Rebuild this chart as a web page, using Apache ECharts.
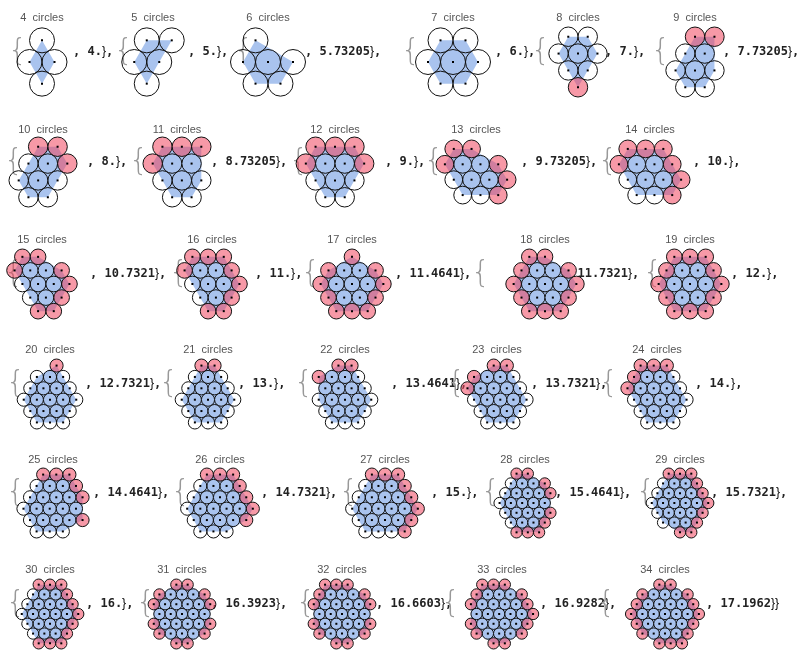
<!DOCTYPE html>
<html><head><meta charset="utf-8">
<script src="https://cdn.jsdelivr.net/npm/echarts@6/dist/echarts.min.js"></script>
<style>html,body{margin:0;padding:0;background:#fff}#c{width:800px;height:659px}</style>
</head><body><div id="c"></div>
<script>
// circle counts
const counts = [4,5,6,7,8,9,10,11,12,13,14,15,16,17,18,19,20,21,22,23,24,25,26,27,28,29,30,31,32,33,34];
// hull perimeters (labels)
const values = ["4.","5.","5.73205","6.","7.","7.73205","8.","8.73205","9.","9.73205","10.","10.7321","11.","11.4641","11.7321","12.","12.7321","13.","13.4641","13.7321","14.","14.4641","14.7321","15.","15.4641","15.7321","16.","16.3923","16.6603","16.9282","17.1962"];
// packings: rows of a hex lattice, each char = half step; o = circle, r = red circle
const packings = [
 [" o","o o"," o"],
 [" o o","o o"," o"],
 [" o","o o o"," o o"],
 [" o o","o o o"," o o"],
 [" o o","o o o"," o o","  r"],
 ["  r r"," o o","o o o"," o o"],
 ["  r r"," o o r","o o o"," o o"],
 [" r r r","r o o"," o o o","  o o"],
 [" r r r","r o o r"," o o o","  o o"],
 [" r r","r o o r"," o o o r","  o o r"],
 [" r r r","r o o r"," o o o r","  o o r"],
 [" r r","r o o r"," o o o r","  o o r","   r r"],
 [" r r r","r o o r"," o o o r","  o o r","   r r"],
 ["    r"," r o o r","r o o o r"," r o o r","  r r r"],
 ["  r r"," r o o r","r o o o r"," r o o r","  r r r"],
 ["  r r r"," r o o r","r o o o r"," r o o r","  r r r"],
 ["     r","  o o o"," o o o o","o o o o o"," o o o o","  o o o"],
 ["   r r","  o o o"," o o o o","o o o o o"," o o o o","  o o o"],
 ["   r r","r o o o"," o o o o","o o o o o"," o o o o","  o o o"],
 ["    r r"," r o o o","r o o o o"," o o o o o","  o o o o","   o o o"],
 ["  r r r"," r o o o","r o o o o"," o o o o o","  o o o o","   o o o"],
 ["   r r r","  o o o r"," o o o o r","o o o o o"," o o o o r","  o o o"],
 ["   r r r","  o o o r"," o o o o r","o o o o o r"," o o o o r","  o o o"],
 ["   r r r","  o o o r"," o o o o r","o o o o o r"," o o o o r","  o o o r"],
 ["   r r","  o o o r"," o o o o r","o o o o o"," o o o o r","  o o o r","   r r r"],
 ["   r r r","  o o o r"," o o o o r","o o o o o r"," o o o o r","  o o o r","     r r"],
 ["   r r r","  o o o r"," o o o o r","o o o o o r"," o o o o r","  o o o r","   r r r"],
 ["    r r"," r o o o r","r o o o o r"," o o o o o","r o o o o r"," r o o o r","    r r"],
 ["  r r r"," r o o o r","r o o o o r"," o o o o o","r o o o o r"," r o o o r","    r r"],
 ["  r r r"," r o o o r","r o o o o r"," o o o o o r","r o o o o r"," r o o o r","    r r"],
 ["     r r","  r o o o r"," r o o o o r","r o o o o o r"," r o o o o r","  r o o o r","     r r r"]
];
// layout
const panelX = [42,153,268,453,578,695, 43,177,335,476,650, 42,212,352,545,690, 50,208,345,497,657, 53,220,385,525,680, 50,182,342,502,665];
const braceX = [12,118,238,405,535,655, 8,133,293,428,602, 8,173,305,475,647, 10,163,298,450,603, 10,175,343,485,640, 10,140,300,445,600];
const valueX = [75,190,307,497,607,725, 89,213,387,523,695, 92,257,397,565,733, 87,240,393,533,697, 95,263,433,557,713, 88,213,378,542,708];
const rowSizes = [6,5,5,5,5,5];
const titleY = [18,130,240,350,460,570];
const shapeY = [62,172,284,394,503,614];

const S = Math.sqrt(3)/2;
function cross(o,a,b){return (a[0]-o[0])*(b[1]-o[1])-(a[1]-o[1])*(b[0]-o[0]);}
function hull(pts){
  const p = pts.map(q=>[q[0],q[1]]).sort((a,b)=>a[0]-b[0]||a[1]-b[1]);
  const lo=[],up=[];
  for(const q of p){while(lo.length>=2&&cross(lo[lo.length-2],lo[lo.length-1],q)<=1e-9)lo.pop();lo.push(q);}
  for(let i=p.length-1;i>=0;i--){const q=p[i];while(up.length>=2&&cross(up[up.length-2],up[up.length-1],q)<=1e-9)up.pop();up.push(q);}
  lo.pop();up.pop();return lo.concat(up);
}
function onBoundary(pt,h){
  for(let i=0;i<h.length;i++){const a=h[i],b=h[(i+1)%h.length];
    const c=cross(a,b,pt);const L=Math.hypot(b[0]-a[0],b[1]-a[1]);
    if(Math.abs(c)/L<1e-6){const t=((pt[0]-a[0])*(b[0]-a[0])+(pt[1]-a[1])*(b[1]-a[1]))/(L*L);if(t>-1e-6&&t<1+1e-6)return true;}}
  return false;
}

const grids=[],xAxes=[],yAxes=[],series=[],graphics=[];
let idx=0;
rowSizes.forEach((n,r)=>{
  for(let k=0;k<n;k++,idx++){
    const rows=packings[idx];
    const pts=[];
    rows.forEach((s,ri)=>{for(let c=0;c<s.length;c++){if(s[c]!==' ')pts.push([c/2,-ri*S,s[c]]);}});
    const h=hull(pts);
    pts.forEach(p=>{if(p[2]==='o'&&!onBoundary(p,h))p[2]='b';});
    const xs=pts.map(p=>p[0]),ys=pts.map(p=>p[1]);
    const x0=Math.min(...xs)-0.5,x1=Math.max(...xs)+0.5,y0=Math.min(...ys)-0.5,y1=Math.max(...ys)+0.5;
    const u=Math.min(70/(y1-y0),80/(x1-x0),25);
    const w=(x1-x0)*u,hh=(y1-y0)*u;
    const left=panelX[idx]-w/2,top=shapeY[r]-hh/2;
    grids.push({left:left,top:top,width:w,height:hh});
    xAxes.push({gridIndex:idx,type:'value',min:x0,max:x1,show:false});
    yAxes.push({gridIndex:idx,type:'value',min:y0,max:y1,show:false});
    const hp=h;
    series.push({type:'custom',xAxisIndex:idx,yAxisIndex:idx,z:1,silent:true,clip:false,data:[[hp[0][0],hp[0][1]]],
      renderItem:(params,api)=>({type:'polygon',shape:{points:hp.map(q=>api.coord(q))},style:{fill:'#a9c3ee'}})});
    const order={b:0,o:1,r:2};
    const data=pts.slice().sort((a,b)=>order[a[2]]-order[b[2]]).map(p=>[p[0],p[1],p[2]]);
    series.push({type:'custom',xAxisIndex:idx,yAxisIndex:idx,z:2,silent:true,clip:false,data:data,
      renderItem:(params,api)=>{
        const c=api.coord([api.value(0),api.value(1)]);
        const rad=api.size([1,0])[0]/2;
        const t=data[params.dataIndex][2];
        const fill=t==='r'?'rgba(240,70,95,0.55)':(t==='b'?'#a9c3ee':'none');
        return {type:'group',children:[
          {type:'circle',shape:{cx:c[0],cy:c[1],r:rad},style:{fill:fill,stroke:'#111',lineWidth:1}},
          {type:'rect',shape:{x:c[0]-1,y:c[1]-1,width:2,height:2},style:{fill:'#000'}}
        ]};
      }});
    graphics.push({type:'text',x:panelX[idx],y:titleY[r],style:{text:counts[idx]+'  circles',fill:'#555',font:'11px "Liberation Sans", Arial',align:'center',verticalAlign:'middle'}});
    const by=shapeY[r]-10;
    graphics.push({type:'text',x:braceX[idx]-4,y:by,style:{text:'{',fill:'#999',font:'300 30px "DejaVu Sans"',align:'left',verticalAlign:'middle'}});
    const last=idx===counts.length-1;
    graphics.push({type:'text',x:valueX[idx]-2,y:by,style:{text:'{v|, '+values[idx]+'}{b|}'+(last?'}':'')+'}{v|'+(last?'':',')+'}',
      align:'left',verticalAlign:'middle',
      rich:{v:{font:'bold 12px "DejaVu Sans Mono", monospace',fill:'#222'},b:{font:'300 30px "DejaVu Sans"',fill:'#999'}}}});
  }
});
const chart=echarts.init(document.getElementById('c'));
chart.setOption({animation:false,grid:grids,xAxis:xAxes,yAxis:yAxes,series:series,graphic:graphics});
</script></body></html>
